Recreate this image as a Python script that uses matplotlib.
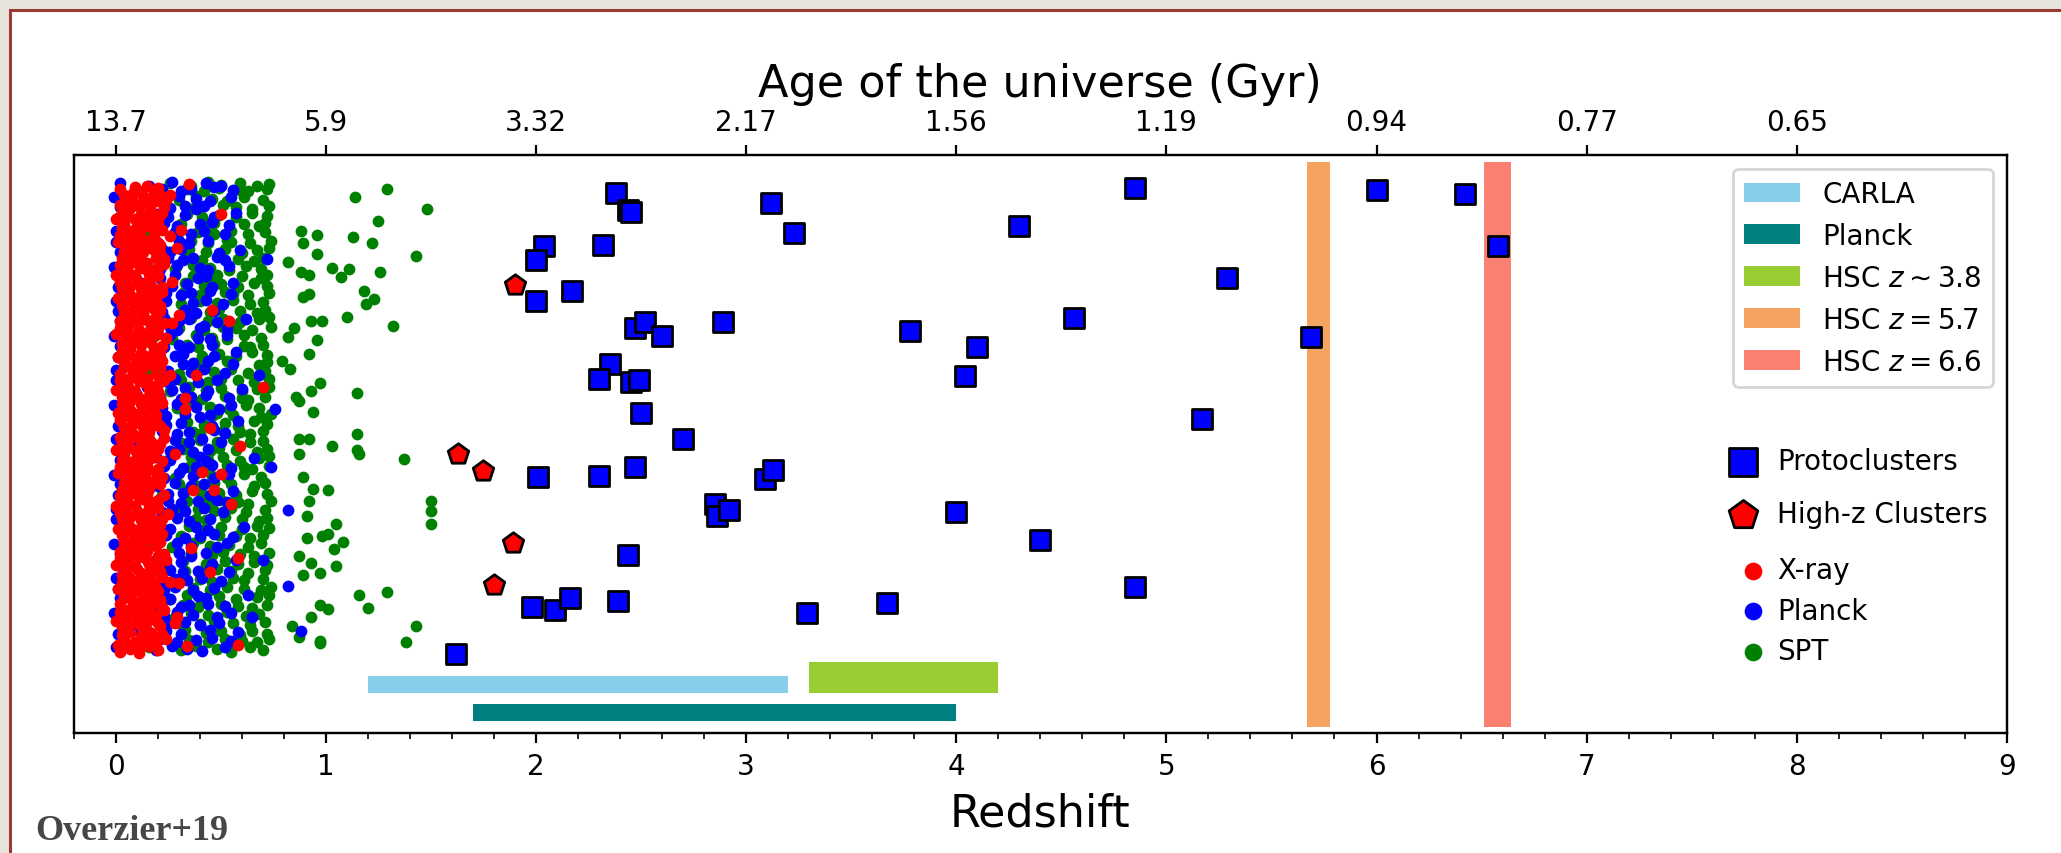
import numpy as np
import matplotlib.pyplot as plt
from matplotlib.patches import Rectangle
from matplotlib.ticker import MultipleLocator

## redshift ticks and the age of the universe at each of them
z_ticks = [0, 1, 2, 3, 4, 5, 6, 7, 8]
age_labels = ['13.7', '5.9', '3.32', '2.17', '1.56', '1.19', '0.94', '0.77', '0.65']

## survey coverage in redshift
carla_range = (1.2, 3.2)
planck_range = (1.7, 4.0)
hsc38_range = (3.3, 4.2)
hsc57_range = (5.67, 5.78)
hsc66_range = (6.51, 6.64)

## protoclusters: (redshift, y position)
proto = np.array([
    (2.38, 0.934), (2.44, 0.905), (2.45, 0.901), (3.12, 0.917), (3.23, 0.865),
    (2.04, 0.843), (2.00, 0.818), (2.32, 0.845), (2.17, 0.765), (2.00, 0.747),
    (2.47, 0.701), (2.52, 0.711), (2.60, 0.687), (2.89, 0.711), (3.78, 0.696),
    (4.10, 0.668), (4.04, 0.618), (2.35, 0.639), (2.30, 0.613), (2.45, 0.608),
    (2.49, 0.610), (2.50, 0.553), (2.70, 0.509), (2.01, 0.443), (2.30, 0.445),
    (2.47, 0.460), (3.09, 0.440), (3.13, 0.455), (2.85, 0.397), (2.86, 0.375),
    (2.92, 0.386), (4.00, 0.383), (2.44, 0.308), (1.98, 0.218), (2.09, 0.212),
    (2.16, 0.234), (2.39, 0.228), (1.62, 0.136), (3.29, 0.208), (3.67, 0.225),
    (4.30, 0.877), (4.56, 0.718), (4.40, 0.334), (4.85, 0.252), (4.85, 0.943),
    (5.17, 0.543), (5.29, 0.788), (5.69, 0.686), (6.00, 0.939), (6.42, 0.932),
    (6.58, 0.843),
])

## high-z clusters
highz = np.array([
    (1.90, 0.775), (1.63, 0.483), (1.75, 0.453), (1.89, 0.329), (1.80, 0.256),
])

## X-ray clusters
xray = np.array([
    (0.02, 0.141), (0.07, 0.146), (0.11, 0.139), (0.16, 0.150), (0.20, 0.144),
    (0.04, 0.162), (0.09, 0.158), (0.13, 0.166), (0.18, 0.160), (0.24, 0.163),
    (0.03, 0.183), (0.06, 0.178), (0.12, 0.185), (0.15, 0.179), (0.21, 0.186),
    (0.05, 0.201), (0.10, 0.206), (0.14, 0.198), (0.19, 0.204), (0.29, 0.200),
    (0.02, 0.224), (0.08, 0.219), (0.13, 0.226), (0.17, 0.221), (0.22, 0.218),
    (0.04, 0.243), (0.07, 0.238), (0.11, 0.246), (0.16, 0.240), (0.20, 0.245),
    (0.03, 0.262), (0.09, 0.258), (0.14, 0.265), (0.18, 0.259), (0.26, 0.261),
    (0.05, 0.281), (0.10, 0.284), (0.12, 0.277), (0.17, 0.286), (0.21, 0.280),
    (0.02, 0.302), (0.06, 0.298), (0.11, 0.305), (0.15, 0.300), (0.20, 0.306),
    (0.04, 0.321), (0.08, 0.325), (0.13, 0.318), (0.19, 0.323), (0.36, 0.320),
    (0.03, 0.342), (0.09, 0.338), (0.12, 0.345), (0.16, 0.340), (0.22, 0.344),
    (0.05, 0.361), (0.07, 0.357), (0.14, 0.364), (0.18, 0.359), (0.21, 0.362),
    (0.02, 0.381), (0.10, 0.384), (0.11, 0.377), (0.15, 0.382), (0.25, 0.379),
    (0.04, 0.402), (0.06, 0.398), (0.13, 0.405), (0.17, 0.400), (0.20, 0.404),
    (0.03, 0.421), (0.08, 0.424), (0.12, 0.417), (0.16, 0.422), (0.47, 0.420),
    (0.05, 0.442), (0.09, 0.438), (0.14, 0.445), (0.19, 0.440), (0.22, 0.443),
    (0.02, 0.461), (0.07, 0.464), (0.11, 0.458), (0.15, 0.462), (0.20, 0.457),
    (0.04, 0.482), (0.10, 0.478), (0.13, 0.485), (0.18, 0.480), (0.28, 0.483),
    (0.03, 0.501), (0.06, 0.505), (0.12, 0.498), (0.17, 0.503), (0.21, 0.500),
    (0.05, 0.522), (0.08, 0.518), (0.14, 0.525), (0.16, 0.520), (0.23, 0.524),
    (0.02, 0.541), (0.09, 0.544), (0.11, 0.538), (0.15, 0.542), (0.19, 0.539),
    (0.04, 0.562), (0.07, 0.558), (0.13, 0.565), (0.18, 0.560), (0.33, 0.561),
    (0.03, 0.581), (0.10, 0.584), (0.12, 0.578), (0.16, 0.583), (0.21, 0.580),
    (0.05, 0.602), (0.06, 0.598), (0.14, 0.605), (0.17, 0.600), (0.20, 0.603),
    (0.02, 0.621), (0.08, 0.625), (0.11, 0.618), (0.19, 0.622), (0.26, 0.620),
    (0.04, 0.642), (0.09, 0.638), (0.13, 0.645), (0.15, 0.640), (0.22, 0.644),
    (0.03, 0.661), (0.07, 0.665), (0.12, 0.658), (0.18, 0.663), (0.21, 0.660),
    (0.05, 0.682), (0.10, 0.678), (0.14, 0.685), (0.16, 0.680), (0.24, 0.683),
    (0.02, 0.701), (0.06, 0.705), (0.11, 0.698), (0.17, 0.703), (0.20, 0.700),
    (0.04, 0.722), (0.08, 0.718), (0.13, 0.725), (0.19, 0.720), (0.30, 0.724),
    (0.03, 0.741), (0.09, 0.744), (0.12, 0.738), (0.15, 0.742), (0.21, 0.739),
    (0.05, 0.762), (0.07, 0.758), (0.14, 0.765), (0.18, 0.760), (0.22, 0.763),
    (0.02, 0.781), (0.10, 0.784), (0.11, 0.778), (0.16, 0.783), (0.27, 0.780),
    (0.04, 0.802), (0.06, 0.798), (0.13, 0.805), (0.17, 0.800), (0.20, 0.804),
    (0.03, 0.821), (0.08, 0.825), (0.12, 0.818), (0.19, 0.822), (0.23, 0.820),
    (0.05, 0.842), (0.09, 0.838), (0.14, 0.845), (0.15, 0.840), (0.21, 0.844),
    (0.02, 0.861), (0.07, 0.865), (0.11, 0.858), (0.18, 0.863), (0.26, 0.860),
    (0.04, 0.882), (0.10, 0.878), (0.13, 0.885), (0.16, 0.880), (0.20, 0.883),
    (0.03, 0.901), (0.06, 0.905), (0.12, 0.898), (0.17, 0.903), (0.22, 0.900),
    (0.05, 0.922), (0.08, 0.918), (0.14, 0.925), (0.19, 0.920), (0.24, 0.923),
    (0.02, 0.941), (0.09, 0.945), (0.11, 0.938), (0.15, 0.947), (0.20, 0.943),
    (0.01, 0.153), (0.06, 0.150), (0.10, 0.156), (0.14, 0.152), (0.19, 0.155),
    (0.03, 0.170), (0.07, 0.174), (0.12, 0.168), (0.17, 0.173), (0.22, 0.171),
    (0.00, 0.194), (0.05, 0.189), (0.09, 0.192), (0.16, 0.195), (0.20, 0.190),
    (0.02, 0.210), (0.07, 0.214), (0.11, 0.209), (0.15, 0.213), (0.23, 0.212),
    (0.04, 0.233), (0.08, 0.229), (0.13, 0.232), (0.18, 0.235), (0.21, 0.230),
    (0.01, 0.250), (0.06, 0.254), (0.10, 0.249), (0.14, 0.253), (0.19, 0.251),
    (0.03, 0.273), (0.07, 0.269), (0.12, 0.272), (0.17, 0.275), (0.22, 0.270),
    (0.00, 0.290), (0.05, 0.294), (0.09, 0.289), (0.16, 0.293), (0.20, 0.291),
    (0.02, 0.313), (0.07, 0.309), (0.11, 0.312), (0.15, 0.315), (0.23, 0.310),
    (0.04, 0.330), (0.08, 0.334), (0.13, 0.329), (0.18, 0.333), (0.21, 0.331),
    (0.01, 0.353), (0.06, 0.349), (0.10, 0.352), (0.14, 0.355), (0.19, 0.350),
    (0.03, 0.370), (0.07, 0.374), (0.12, 0.369), (0.17, 0.373), (0.22, 0.371),
    (0.00, 0.393), (0.05, 0.389), (0.09, 0.392), (0.16, 0.395), (0.20, 0.390),
    (0.02, 0.410), (0.07, 0.414), (0.11, 0.409), (0.15, 0.413), (0.23, 0.411),
    (0.04, 0.433), (0.08, 0.429), (0.13, 0.432), (0.18, 0.435), (0.21, 0.430),
    (0.01, 0.450), (0.06, 0.454), (0.10, 0.449), (0.14, 0.453), (0.19, 0.451),
    (0.03, 0.473), (0.07, 0.469), (0.12, 0.472), (0.17, 0.475), (0.22, 0.470),
    (0.00, 0.490), (0.05, 0.494), (0.09, 0.489), (0.16, 0.493), (0.20, 0.491),
    (0.02, 0.513), (0.07, 0.509), (0.11, 0.512), (0.15, 0.515), (0.23, 0.510),
    (0.04, 0.530), (0.08, 0.534), (0.13, 0.529), (0.18, 0.533), (0.21, 0.531),
    (0.01, 0.553), (0.06, 0.549), (0.10, 0.552), (0.14, 0.555), (0.19, 0.550),
    (0.03, 0.570), (0.07, 0.574), (0.12, 0.569), (0.17, 0.573), (0.22, 0.571),
    (0.00, 0.593), (0.05, 0.589), (0.09, 0.592), (0.16, 0.595), (0.20, 0.590),
    (0.02, 0.610), (0.07, 0.614), (0.11, 0.609), (0.15, 0.613), (0.23, 0.611),
    (0.04, 0.633), (0.08, 0.629), (0.13, 0.632), (0.18, 0.635), (0.21, 0.630),
    (0.01, 0.650), (0.06, 0.654), (0.10, 0.649), (0.14, 0.653), (0.19, 0.651),
    (0.03, 0.673), (0.07, 0.669), (0.12, 0.672), (0.17, 0.675), (0.22, 0.670),
    (0.00, 0.690), (0.05, 0.694), (0.09, 0.689), (0.16, 0.693), (0.20, 0.691),
    (0.02, 0.713), (0.07, 0.709), (0.11, 0.712), (0.15, 0.715), (0.23, 0.710),
    (0.04, 0.730), (0.08, 0.734), (0.13, 0.729), (0.18, 0.733), (0.21, 0.731),
    (0.01, 0.753), (0.06, 0.749), (0.10, 0.752), (0.14, 0.755), (0.19, 0.750),
    (0.03, 0.770), (0.07, 0.774), (0.12, 0.769), (0.17, 0.773), (0.22, 0.771),
    (0.00, 0.793), (0.05, 0.789), (0.09, 0.792), (0.16, 0.795), (0.20, 0.790),
    (0.02, 0.810), (0.07, 0.814), (0.11, 0.809), (0.15, 0.813), (0.23, 0.811),
    (0.04, 0.833), (0.08, 0.829), (0.13, 0.832), (0.18, 0.835), (0.21, 0.830),
    (0.01, 0.850), (0.06, 0.854), (0.10, 0.849), (0.14, 0.853), (0.19, 0.851),
    (0.03, 0.873), (0.07, 0.869), (0.12, 0.872), (0.17, 0.875), (0.22, 0.870),
    (0.00, 0.890), (0.05, 0.894), (0.09, 0.889), (0.16, 0.893), (0.20, 0.891),
    (0.02, 0.913), (0.07, 0.909), (0.11, 0.912), (0.15, 0.915), (0.23, 0.910),
    (0.04, 0.930), (0.08, 0.934), (0.13, 0.929), (0.18, 0.933), (0.21, 0.931),
    (0.70, 0.598), (0.59, 0.497), (0.58, 0.303), (0.55, 0.397), (0.50, 0.898),
    (0.46, 0.732), (0.54, 0.713), (0.58, 0.152), (0.45, 0.528), (0.50, 0.448),
    (0.41, 0.452), (0.45, 0.278), (0.31, 0.870), (0.38, 0.620), (0.27, 0.710),
    (0.35, 0.950), (0.29, 0.840), (0.24, 0.300), (0.37, 0.420), (0.30, 0.260),
    (0.34, 0.150), (0.26, 0.930), (0.33, 0.580), (0.28, 0.190),
])

## Planck clusters
planck = np.array([
    (0.00, 0.148), (0.19, 0.143), (0.27, 0.151), (0.34, 0.146), (0.41, 0.142), (0.52, 0.149),
    (0.01, 0.172), (0.08, 0.179), (0.24, 0.176), (0.31, 0.171), (0.45, 0.178), (0.58, 0.174),
    (-0.01, 0.207), (0.23, 0.202), (0.29, 0.209), (0.37, 0.204), (0.48, 0.201), (0.55, 0.208),
    (0.02, 0.233), (0.14, 0.238), (0.26, 0.231), (0.39, 0.237), (0.43, 0.234), (0.63, 0.239),
    (0.00, 0.268), (0.21, 0.262), (0.28, 0.267), (0.34, 0.264), (0.41, 0.269), (0.50, 0.263),
    (0.01, 0.291), (0.18, 0.298), (0.24, 0.293), (0.31, 0.296), (0.46, 0.292), (0.57, 0.299),
    (-0.01, 0.327), (0.09, 0.322), (0.29, 0.329), (0.36, 0.324), (0.48, 0.321), (0.53, 0.328),
    (0.02, 0.352), (0.20, 0.358), (0.26, 0.353), (0.38, 0.357), (0.44, 0.351), (0.61, 0.356),
    (0.00, 0.388), (0.22, 0.382), (0.27, 0.387), (0.33, 0.384), (0.42, 0.389), (0.51, 0.383),
    (0.01, 0.411), (0.13, 0.418), (0.25, 0.413), (0.32, 0.416), (0.45, 0.412), (0.56, 0.419),
    (-0.01, 0.447), (0.23, 0.442), (0.30, 0.449), (0.37, 0.444), (0.47, 0.441), (0.54, 0.448),
    (0.02, 0.472), (0.19, 0.478), (0.26, 0.473), (0.40, 0.477), (0.43, 0.471), (0.66, 0.476),
    (0.00, 0.508), (0.07, 0.502), (0.28, 0.507), (0.35, 0.504), (0.41, 0.509), (0.50, 0.503),
    (0.01, 0.531), (0.21, 0.538), (0.24, 0.533), (0.31, 0.536), (0.46, 0.532), (0.58, 0.539),
    (-0.01, 0.567), (0.22, 0.562), (0.29, 0.569), (0.38, 0.564), (0.49, 0.561), (0.55, 0.568),
    (0.02, 0.592), (0.15, 0.598), (0.27, 0.593), (0.33, 0.597), (0.44, 0.591), (0.60, 0.596),
    (0.00, 0.628), (0.20, 0.622), (0.25, 0.627), (0.36, 0.624), (0.42, 0.629), (0.52, 0.623),
    (0.01, 0.651), (0.18, 0.658), (0.28, 0.653), (0.32, 0.656), (0.47, 0.652), (0.57, 0.659),
    (-0.01, 0.687), (0.10, 0.682), (0.26, 0.689), (0.39, 0.684), (0.45, 0.681), (0.53, 0.688),
    (0.02, 0.712), (0.23, 0.718), (0.30, 0.713), (0.35, 0.717), (0.48, 0.711), (0.62, 0.716),
    (0.00, 0.748), (0.19, 0.742), (0.24, 0.747), (0.37, 0.744), (0.43, 0.749), (0.51, 0.743),
    (0.01, 0.771), (0.12, 0.778), (0.27, 0.773), (0.34, 0.776), (0.46, 0.772), (0.56, 0.779),
    (-0.01, 0.807), (0.21, 0.802), (0.29, 0.809), (0.40, 0.804), (0.44, 0.801), (0.54, 0.808),
    (0.02, 0.832), (0.22, 0.838), (0.26, 0.833), (0.31, 0.837), (0.49, 0.831), (0.59, 0.836),
    (0.00, 0.868), (0.06, 0.862), (0.28, 0.867), (0.36, 0.864), (0.42, 0.869), (0.52, 0.863),
    (0.01, 0.891), (0.20, 0.898), (0.25, 0.893), (0.33, 0.896), (0.47, 0.892), (0.57, 0.899),
    (-0.01, 0.927), (0.18, 0.922), (0.30, 0.929), (0.38, 0.924), (0.45, 0.921), (0.55, 0.928),
    (0.02, 0.952), (0.16, 0.947), (0.27, 0.953), (0.35, 0.948), (0.43, 0.951), (0.50, 0.946),
    (0.21, 0.162), (0.29, 0.158), (0.38, 0.161), (0.46, 0.164), (0.55, 0.159),
    (0.25, 0.188), (0.33, 0.192), (0.40, 0.187), (0.49, 0.191), (0.03, 0.190),
    (0.20, 0.222), (0.31, 0.218), (0.35, 0.221), (0.44, 0.224), (0.52, 0.219),
    (0.23, 0.248), (0.28, 0.252), (0.37, 0.247), (0.47, 0.251), (0.01, 0.250),
    (0.26, 0.282), (0.32, 0.278), (0.39, 0.281), (0.45, 0.284), (0.54, 0.279),
    (0.22, 0.308), (0.30, 0.312), (0.36, 0.307), (0.43, 0.311), (0.02, 0.310),
    (0.24, 0.342), (0.33, 0.338), (0.40, 0.341), (0.47, 0.344), (0.56, 0.339),
    (0.21, 0.368), (0.29, 0.372), (0.35, 0.367), (0.45, 0.371), (0.00, 0.370),
    (0.25, 0.402), (0.31, 0.398), (0.39, 0.401), (0.48, 0.404), (0.53, 0.399),
    (0.20, 0.428), (0.28, 0.432), (0.36, 0.427), (0.42, 0.431), (0.02, 0.430),
    (0.23, 0.462), (0.32, 0.458), (0.38, 0.461), (0.46, 0.464), (0.55, 0.459),
    (0.26, 0.488), (0.30, 0.492), (0.37, 0.487), (0.44, 0.491), (0.01, 0.490),
    (0.22, 0.522), (0.29, 0.518), (0.35, 0.521), (0.47, 0.524), (0.52, 0.519),
    (0.24, 0.548), (0.33, 0.552), (0.40, 0.547), (0.45, 0.551), (0.03, 0.550),
    (0.21, 0.582), (0.31, 0.578), (0.36, 0.581), (0.43, 0.584), (0.54, 0.579),
    (0.25, 0.608), (0.28, 0.612), (0.39, 0.607), (0.48, 0.611), (0.00, 0.610),
    (0.20, 0.642), (0.32, 0.638), (0.37, 0.641), (0.44, 0.644), (0.56, 0.639),
    (0.23, 0.668), (0.30, 0.672), (0.35, 0.667), (0.46, 0.671), (0.02, 0.670),
    (0.26, 0.702), (0.29, 0.698), (0.40, 0.701), (0.42, 0.704), (0.53, 0.699),
    (0.22, 0.728), (0.33, 0.732), (0.38, 0.727), (0.47, 0.731), (0.01, 0.730),
    (0.24, 0.762), (0.31, 0.758), (0.36, 0.761), (0.45, 0.764), (0.55, 0.759),
    (0.21, 0.788), (0.28, 0.792), (0.39, 0.787), (0.43, 0.791), (0.03, 0.790),
    (0.25, 0.822), (0.32, 0.818), (0.37, 0.821), (0.48, 0.824), (0.52, 0.819),
    (0.20, 0.848), (0.30, 0.852), (0.35, 0.847), (0.44, 0.851), (0.00, 0.850),
    (0.23, 0.882), (0.29, 0.878), (0.40, 0.881), (0.46, 0.884), (0.54, 0.879),
    (0.26, 0.908), (0.33, 0.912), (0.38, 0.907), (0.42, 0.911), (0.02, 0.910),
    (0.22, 0.942), (0.31, 0.938), (0.36, 0.941), (0.47, 0.944), (0.56, 0.939),
    (0.82, 0.385), (0.82, 0.255), (0.88, 0.176), (0.74, 0.460), (0.70, 0.300),
    (0.68, 0.620), (0.72, 0.820), (0.65, 0.200), (0.76, 0.560),
])

## SPT clusters
spt = np.array([
    (0.16, 0.149), (0.31, 0.143), (0.38, 0.151), (0.48, 0.146), (0.55, 0.141), (0.64, 0.148), (0.70, 0.144),
    (0.23, 0.171), (0.33, 0.179), (0.43, 0.173), (0.50, 0.176), (0.59, 0.170), (0.65, 0.177), (0.72, 0.172),
    (0.19, 0.208), (0.28, 0.201), (0.36, 0.207), (0.44, 0.204), (0.53, 0.209), (0.62, 0.203), (0.68, 0.206),
    (0.26, 0.232), (0.34, 0.238), (0.41, 0.233), (0.49, 0.237), (0.57, 0.231), (0.67, 0.236), (0.73, 0.239),
    (0.15, 0.268), (0.29, 0.263), (0.40, 0.266), (0.46, 0.262), (0.56, 0.269), (0.61, 0.264), (0.70, 0.267),
    (0.21, 0.291), (0.32, 0.297), (0.43, 0.292), (0.52, 0.298), (0.58, 0.293), (0.66, 0.296), (0.72, 0.290),
    (0.18, 0.327), (0.27, 0.321), (0.37, 0.328), (0.45, 0.323), (0.54, 0.326), (0.63, 0.322), (0.69, 0.329),
    (0.24, 0.352), (0.35, 0.358), (0.42, 0.351), (0.50, 0.356), (0.60, 0.353), (0.67, 0.359), (0.73, 0.354),
    (0.17, 0.388), (0.30, 0.382), (0.39, 0.387), (0.47, 0.384), (0.55, 0.389), (0.62, 0.383), (0.71, 0.386),
    (0.22, 0.411), (0.33, 0.418), (0.41, 0.413), (0.49, 0.416), (0.57, 0.412), (0.65, 0.419), (0.72, 0.414),
    (0.20, 0.447), (0.28, 0.442), (0.38, 0.449), (0.46, 0.444), (0.53, 0.441), (0.61, 0.448), (0.69, 0.443),
    (0.25, 0.472), (0.36, 0.478), (0.44, 0.473), (0.51, 0.477), (0.59, 0.471), (0.68, 0.476), (0.73, 0.479),
    (0.16, 0.508), (0.31, 0.502), (0.40, 0.507), (0.48, 0.504), (0.56, 0.509), (0.64, 0.503), (0.70, 0.506),
    (0.23, 0.531), (0.34, 0.538), (0.42, 0.533), (0.52, 0.536), (0.58, 0.532), (0.66, 0.539), (0.72, 0.534),
    (0.19, 0.567), (0.29, 0.562), (0.37, 0.569), (0.45, 0.564), (0.54, 0.561), (0.62, 0.568), (0.68, 0.563),
    (0.26, 0.592), (0.35, 0.598), (0.43, 0.593), (0.50, 0.597), (0.60, 0.591), (0.67, 0.596), (0.73, 0.599),
    (0.15, 0.628), (0.30, 0.622), (0.39, 0.627), (0.47, 0.624), (0.55, 0.629), (0.63, 0.623), (0.71, 0.626),
    (0.21, 0.651), (0.32, 0.658), (0.41, 0.653), (0.49, 0.656), (0.57, 0.652), (0.65, 0.659), (0.72, 0.654),
    (0.18, 0.687), (0.27, 0.682), (0.38, 0.689), (0.46, 0.684), (0.53, 0.681), (0.61, 0.688), (0.69, 0.683),
    (0.24, 0.712), (0.36, 0.718), (0.44, 0.713), (0.51, 0.717), (0.59, 0.711), (0.68, 0.716), (0.73, 0.719),
    (0.17, 0.748), (0.31, 0.742), (0.40, 0.747), (0.48, 0.744), (0.56, 0.749), (0.64, 0.743), (0.70, 0.746),
    (0.22, 0.771), (0.33, 0.778), (0.42, 0.773), (0.50, 0.776), (0.58, 0.772), (0.66, 0.779), (0.72, 0.774),
    (0.20, 0.807), (0.28, 0.802), (0.37, 0.809), (0.45, 0.804), (0.54, 0.801), (0.62, 0.808), (0.69, 0.803),
    (0.25, 0.832), (0.35, 0.838), (0.43, 0.833), (0.52, 0.837), (0.60, 0.831), (0.67, 0.836), (0.73, 0.839),
    (0.16, 0.868), (0.29, 0.862), (0.39, 0.867), (0.47, 0.864), (0.55, 0.869), (0.63, 0.863), (0.71, 0.866),
    (0.23, 0.891), (0.34, 0.898), (0.41, 0.893), (0.49, 0.896), (0.57, 0.892), (0.65, 0.899), (0.72, 0.894),
    (0.19, 0.927), (0.30, 0.922), (0.38, 0.929), (0.46, 0.924), (0.53, 0.921), (0.61, 0.928), (0.70, 0.923),
    (0.26, 0.952), (0.36, 0.947), (0.44, 0.953), (0.50, 0.948), (0.59, 0.951), (0.67, 0.946), (0.73, 0.950),
    (0.35, 0.161), (0.44, 0.158), (0.52, 0.163), (0.60, 0.160), (0.67, 0.157), (0.73, 0.162),
    (0.30, 0.191), (0.40, 0.188), (0.47, 0.193), (0.56, 0.190), (0.64, 0.187), (0.71, 0.192),
    (0.32, 0.221), (0.39, 0.218), (0.50, 0.223), (0.58, 0.220), (0.65, 0.217), (0.72, 0.222),
    (0.37, 0.251), (0.45, 0.248), (0.53, 0.253), (0.61, 0.250), (0.69, 0.247), (0.74, 0.252),
    (0.33, 0.281), (0.41, 0.278), (0.48, 0.283), (0.55, 0.280), (0.63, 0.277), (0.71, 0.282),
    (0.36, 0.311), (0.46, 0.308), (0.51, 0.313), (0.59, 0.310), (0.66, 0.307), (0.73, 0.312),
    (0.31, 0.341), (0.40, 0.338), (0.49, 0.343), (0.57, 0.340), (0.64, 0.337), (0.70, 0.342),
    (0.38, 0.371), (0.43, 0.368), (0.52, 0.373), (0.60, 0.370), (0.68, 0.367), (0.72, 0.372),
    (0.34, 0.401), (0.44, 0.398), (0.50, 0.403), (0.58, 0.400), (0.63, 0.397), (0.74, 0.402),
    (0.30, 0.431), (0.39, 0.428), (0.47, 0.433), (0.55, 0.430), (0.66, 0.427), (0.71, 0.432),
    (0.35, 0.461), (0.42, 0.458), (0.53, 0.463), (0.61, 0.460), (0.65, 0.457), (0.73, 0.462),
    (0.32, 0.491), (0.45, 0.488), (0.49, 0.493), (0.57, 0.490), (0.67, 0.487), (0.72, 0.492),
    (0.37, 0.521), (0.40, 0.518), (0.51, 0.523), (0.59, 0.520), (0.64, 0.517), (0.70, 0.522),
    (0.33, 0.551), (0.46, 0.548), (0.48, 0.553), (0.56, 0.550), (0.69, 0.547), (0.74, 0.552),
    (0.36, 0.581), (0.41, 0.578), (0.52, 0.583), (0.60, 0.580), (0.63, 0.577), (0.71, 0.582),
    (0.31, 0.611), (0.44, 0.608), (0.50, 0.613), (0.58, 0.610), (0.66, 0.607), (0.73, 0.612),
    (0.38, 0.641), (0.43, 0.638), (0.53, 0.643), (0.55, 0.640), (0.68, 0.637), (0.72, 0.642),
    (0.34, 0.671), (0.39, 0.668), (0.47, 0.673), (0.61, 0.670), (0.64, 0.667), (0.70, 0.672),
    (0.30, 0.701), (0.42, 0.698), (0.51, 0.703), (0.57, 0.700), (0.65, 0.697), (0.74, 0.702),
    (0.35, 0.731), (0.45, 0.728), (0.49, 0.733), (0.59, 0.730), (0.67, 0.727), (0.71, 0.732),
    (0.32, 0.761), (0.40, 0.758), (0.52, 0.763), (0.56, 0.760), (0.63, 0.757), (0.73, 0.762),
    (0.37, 0.791), (0.46, 0.788), (0.48, 0.793), (0.60, 0.790), (0.69, 0.787), (0.72, 0.792),
    (0.33, 0.821), (0.41, 0.818), (0.50, 0.823), (0.58, 0.820), (0.66, 0.817), (0.70, 0.822),
    (0.36, 0.851), (0.44, 0.848), (0.53, 0.853), (0.55, 0.850), (0.64, 0.847), (0.74, 0.852),
    (0.31, 0.881), (0.43, 0.878), (0.47, 0.883), (0.61, 0.880), (0.68, 0.877), (0.71, 0.882),
    (0.38, 0.911), (0.39, 0.908), (0.51, 0.913), (0.57, 0.910), (0.65, 0.907), (0.73, 0.912),
    (0.34, 0.941), (0.42, 0.938), (0.49, 0.943), (0.59, 0.940), (0.63, 0.937), (0.72, 0.942),
    (1.14, 0.927), (1.29, 0.941), (1.48, 0.906), (1.25, 0.885), (1.13, 0.859), (1.22, 0.848),
    (1.43, 0.825), (1.26, 0.798), (1.03, 0.804), (1.11, 0.802), (1.07, 0.789), (1.18, 0.765),
    (1.23, 0.751), (1.19, 0.743), (1.10, 0.719), (1.32, 0.704), (0.88, 0.868), (0.96, 0.862),
    (0.89, 0.847), (0.96, 0.829), (0.82, 0.815), (0.88, 0.797), (0.92, 0.792), (0.89, 0.755),
    (0.92, 0.760), (0.93, 0.713), (0.98, 0.712), (0.85, 0.701), (0.96, 0.680), (0.82, 0.686),
    (0.92, 0.655), (0.79, 0.643), (0.83, 0.629), (0.97, 0.605), (0.93, 0.592), (0.86, 0.582),
    (0.87, 0.575), (1.15, 0.588), (0.94, 0.555), (1.15, 0.517), (1.15, 0.490), (1.16, 0.483),
    (1.03, 0.496), (0.92, 0.508), (0.87, 0.509), (1.37, 0.474), (0.87, 0.483), (0.89, 0.443),
    (0.94, 0.423), (1.01, 0.421), (0.92, 0.402), (0.91, 0.376), (1.50, 0.402), (1.50, 0.384),
    (1.50, 0.362), (1.05, 0.362), (1.01, 0.344), (0.98, 0.341), (1.08, 0.330), (0.91, 0.338),
    (1.04, 0.318), (0.93, 0.294), (1.05, 0.289), (0.87, 0.306), (0.97, 0.276), (0.89, 0.274),
    (1.16, 0.238), (1.29, 0.244), (1.20, 0.217), (0.97, 0.222), (1.01, 0.214), (0.93, 0.200),
    (1.43, 0.185), (1.38, 0.157), (0.97, 0.156), (0.97, 0.160), (0.87, 0.166), (0.84, 0.185),
])

plt.rcParams['font.family'] = 'DejaVu Sans'

fig = plt.figure(figsize=(10.305, 4.27), dpi=200, facecolor='#e6e3dd')

## white slide panel with a dark red edge, kept behind the axes
fig.patches.append(Rectangle((10 / 2061, -0.1), 1.2, 1.1 - 11 / 854,
                             transform=fig.transFigure, facecolor='white',
                             edgecolor='#9b3a30', lw=1.1, zorder=-10))

ax = fig.add_axes([0.03576, 0.1405, 0.9380, 0.6768])
ax.set_xlim(-0.2, 9.0)
ax.set_ylim(0, 1)

## survey redshift windows
carla = ax.barh(0.0845, carla_range[1] - carla_range[0], left=carla_range[0],
                height=0.030, color='skyblue', label='CARLA')
pl_bar = ax.barh(0.036, planck_range[1] - planck_range[0], left=planck_range[0],
                 height=0.029, color='teal', label='Planck')
hsc38 = ax.barh(0.096, hsc38_range[1] - hsc38_range[0], left=hsc38_range[0],
                height=0.052, color='yellowgreen', label=r'HSC $z\sim3.8$')
hsc57 = ax.axvspan(*hsc57_range, ymin=0.01, ymax=0.988, color='sandybrown', lw=0,
                   label=r'HSC $z=5.7$')
hsc66 = ax.axvspan(*hsc66_range, ymin=0.01, ymax=0.988, color='salmon', lw=0,
                   label=r'HSC $z=6.6$')

## low-z cluster catalogues
dot = 18
s_spt = ax.scatter(spt[:, 0], spt[:, 1], s=dot, c='green', lw=0, label='SPT')
s_pl = ax.scatter(planck[:, 0], planck[:, 1], s=dot, c='blue', lw=0, label='Planck')
s_xr = ax.scatter(xray[:, 0], xray[:, 1], s=dot, c='red', lw=0, label='X-ray')

## protoclusters and high-z clusters
s_pc = ax.scatter(proto[:, 0], proto[:, 1], s=50, marker='s', c='blue',
                  edgecolors='black', lw=1, label='Protoclusters', zorder=3)
s_hz = ax.scatter(highz[:, 0], highz[:, 1], s=60, marker='p', c='red',
                  edgecolors='black', lw=1, label='High-z Clusters', zorder=3)

ax.set_yticks([])
ax.xaxis.set_minor_locator(MultipleLocator(0.2))
ax.set_xticks(range(10))
ax.set_xlabel('Redshift', fontsize=16)

ax2 = ax.twiny()
ax2.set_xlim(ax.get_xlim())
ax2.set_xticks(z_ticks)
ax2.set_xticklabels(age_labels)
ax2.set_xlabel('Age of the universe (Gyr)', fontsize=16)

leg1 = ax.legend(handles=[carla, pl_bar, hsc38, hsc57, hsc66], loc='upper right')
ax.add_artist(leg1)
leg2 = ax.legend(handles=[s_pc, s_hz], loc='upper left', bbox_to_anchor=(0.8515, 0.514),
                 borderaxespad=0, frameon=False, markerscale=1.4,
                 handlelength=0.85, labelspacing=0.9)
ax.add_artist(leg2)
ax.legend(handles=[s_xr, s_pl, s_spt], loc='upper left', bbox_to_anchor=(0.8624, 0.325),
          borderaxespad=0, frameon=False, markerscale=1.5,
          handlelength=0.1, labelspacing=0.45)

fig.text(35 / 2061, 14 / 854, 'Overzier+19', family='Liberation Serif', weight='bold',
         fontsize=13, color='#464646', va='baseline')

fig.savefig('out.png', dpi=200, facecolor=fig.get_facecolor())
